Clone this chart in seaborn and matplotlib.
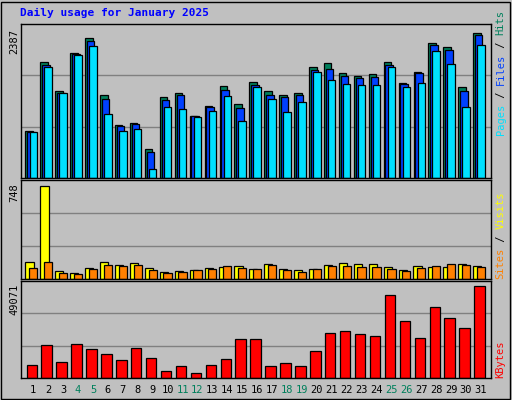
import matplotlib.pyplot as plt
import numpy as np
import seaborn as sns
from matplotlib.patches import Rectangle

days = np.arange(1, 32)
weekend_days = [4, 5, 11, 12, 18, 19, 25, 26]

hits = [767, 1901, 1431, 2047, 2295, 1366, 864, 896, 475, 1334, 1399, 1026, 1188, 1512, 1220, 1577,
        1431, 1366, 1399, 1825, 1885, 1723, 1674, 1706, 1901, 1561, 1739, 2225, 2160, 1496, 2387]
files = [761, 1863, 1404, 2030, 2257, 1301, 848, 880, 427, 1285, 1366, 1015, 1161, 1447, 1156, 1534,
         1366, 1334, 1366, 1782, 1787, 1674, 1642, 1658, 1863, 1544, 1723, 2192, 2095, 1431, 2354]
pages = [751, 1820, 1399, 2014, 2176, 1058, 767, 799, 151, 1172, 1139, 1010, 1107, 1350, 929, 1496,
         1301, 1091, 1253, 1739, 1609, 1544, 1528, 1528, 1820, 1496, 1561, 2079, 1868, 1172, 2192]
visits = [138, 748, 65, 49, 89, 138, 114, 130, 89, 57, 65, 73, 89, 98, 106, 81,
          122, 81, 73, 81, 114, 130, 122, 122, 98, 73, 106, 98, 98, 122, 106]
sites = [89, 138, 49, 41, 81, 114, 106, 114, 73, 49, 57, 73, 81, 106, 89, 81,
         114, 73, 57, 81, 106, 106, 98, 98, 81, 65, 89, 106, 122, 114, 98]
kbytes = [7164, 17910, 8776, 18447, 15761, 13075, 9851, 16298, 10925, 3940, 6627, 2866, 7164, 10388,
          21134, 21134, 6627, 8239, 6627, 14686, 24358, 25432, 23820, 22746, 44775, 30806, 21671,
          38327, 32417, 27044, 49071]

BG = '#c0c0c0'
C_HITS, C_FILES, C_PAGES = '#00805c', '#0040ff', '#00e0ff'
C_VISITS, C_SITES, C_KB = '#ffff00', '#ff8000', '#ff0000'
WEEKEND = '#00805c'
FS = 7.5

sns.set_style('white')
plt.rcParams['font.family'] = ['DejaVu Sans Mono']

W, H = 512, 400
fig = plt.figure(figsize=(W / 100, H / 100), dpi=100, facecolor=BG)
fig.patches.append(Rectangle((0.002, 0.002), 0.994, 0.994, transform=fig.transFigure,
                             fill=False, edgecolor='black', linewidth=1))


def make_ax(top, bottom):
    left, right = 21, 491
    return fig.add_axes([left / W, 1 - bottom / H, (right - left) / W, (bottom - top) / H])


def draw(ax, series, ymax):
    for vals, off, width, color in series:
        sns.barplot(x=days + off, y=vals, native_scale=True, width=width, color=color,
                    edgecolor='black', linewidth=0.9, saturation=1, ax=ax)
    ax.set_facecolor(BG)
    top = ymax * 1.06
    ax.set_ylim(0, top)
    ax.set_xlim(0.18, 31.67)
    for g in (top / 3, 2 * top / 3):
        ax.axhline(g, color='#808080', linewidth=1, zorder=0)
    ax.set_xticks([])
    ax.set_yticks([])
    ax.set_xlabel('')
    ax.set_ylabel('')
    for s in ax.spines.values():
        s.set_color('black')
        s.set_linewidth(1)
    ax.text(-0.004, 0.97, str(ymax), transform=ax.transAxes, rotation=90,
            ha='right', va='top', fontsize=FS, color='black')


def stacked_vertical(ax, parts, y0):
    # place pieces one after another going up
    fig.canvas.draw()
    renderer = fig.canvas.get_renderer()
    y = y0
    for txt, col in parts:
        t = ax.text(1.01, y, txt, transform=ax.transAxes, rotation=90, ha='left', va='bottom',
                    fontsize=FS, color=col)
        bb = t.get_window_extent(renderer).transformed(ax.transAxes.inverted())
        y = bb.y1


ax1 = make_ax(24, 178)
draw(ax1, [(hits, -0.27, 0.5, C_HITS), (files, -0.15, 0.5, C_FILES), (pages, 0.0, 0.5, C_PAGES)],
     max(hits))
ax2 = make_ax(180, 279)
draw(ax2, [(visits, -0.25, 0.55, C_VISITS), (sites, 0.0, 0.55, C_SITES)], max(visits))
ax3 = make_ax(281, 378)
draw(ax3, [(kbytes, -0.1, 0.7, C_KB)], max(kbytes))

stacked_vertical(ax1, [('Pages', C_PAGES), (' / ', 'black'), ('Files', C_FILES),
                       (' / ', 'black'), ('Hits', C_HITS)], 0.28)
stacked_vertical(ax2, [('Sites', C_SITES), (' / ', 'black'), ('Visits', C_VISITS)], 0.0)
stacked_vertical(ax3, [('KBytes', C_KB)], 0.0)

for d in days:
    ax3.text(d, -0.07, str(d), transform=ax3.get_xaxis_transform(), ha='center', va='top',
             fontsize=FS, color=WEEKEND if d in weekend_days else 'black')

fig.text(20 / W, 1 - 13 / H, 'Daily usage for January 2025', color='#0000ff', fontsize=8,
         fontweight='bold', ha='left', va='center')

fig.savefig('out.png', dpi=100, facecolor=BG)
